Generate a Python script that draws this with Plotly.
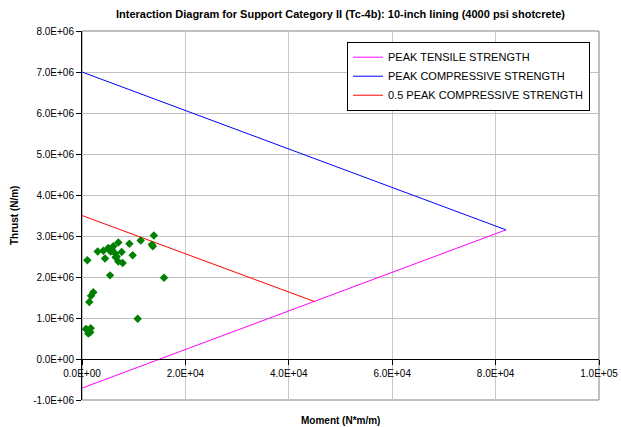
import plotly.graph_objects as go

# ---- data ----
tensile_moment = [0, 82000]
tensile_thrust = [-710000, 3150000]

compressive_moment = [0, 82000]
compressive_thrust = [7000000, 3150000]

half_comp_moment = [0, 45000]
half_comp_thrust = [3500000, 1400000]

pts_moment = [1030, 3030, 4130, 4450, 5090, 5540, 6060, 6380, 7030, 6700, 7030, 7670,
              7870, 9160, 9800, 11350, 13500, 13700, 13900, 15860, 5420, 10770, 2190,
              1740, 1410, 1030, 1680, 1220, 1600, 770, 5740, 6500]
pts_thrust = [2410000, 2620000, 2640000, 2450000, 2710000, 2620000, 2750000, 2580000,
              2840000, 2500000, 2380000, 2610000, 2340000, 2810000, 2530000, 2890000,
              2790000, 2750000, 3010000, 1980000, 2040000, 980000, 1630000, 1540000,
              1390000, 710000, 750000, 620000, 650000, 730000, 2680000, 2480000]

x_tickvals = [0, 20000, 40000, 60000, 80000, 100000]
x_ticktext = ["0.0E+00", "2.0E+04", "4.0E+04", "6.0E+04", "8.0E+04", "1.0E+05"]
y_tickvals = [-1e6, 0, 1e6, 2e6, 3e6, 4e6, 5e6, 6e6, 7e6, 8e6]
y_ticktext = ["-1.0E+06", "0.0E+00", "1.0E+06", "2.0E+06", "3.0E+06", "4.0E+06",
              "5.0E+06", "6.0E+06", "7.0E+06", "8.0E+06"]

x_range = [0, 100000]
y_range = [-1e6, 8e6]

font = "Liberation Sans, Arial, sans-serif"

fig = go.Figure()
fig.add_trace(go.Scatter(x=tensile_moment, y=tensile_thrust, mode="lines",
                         name="PEAK TENSILE STRENGTH",
                         line=dict(color="#FF00FF", width=1)))
fig.add_trace(go.Scatter(x=compressive_moment, y=compressive_thrust, mode="lines",
                         name="PEAK COMPRESSIVE STRENGTH",
                         line=dict(color="#0000FF", width=1)))
fig.add_trace(go.Scatter(x=half_comp_moment, y=half_comp_thrust, mode="lines",
                         name="0.5 PEAK COMPRESSIVE STRENGTH",
                         line=dict(color="#FF0000", width=1)))
fig.add_trace(go.Scatter(x=pts_moment, y=pts_thrust, mode="markers",
                         showlegend=False,
                         marker=dict(symbol="diamond", size=6.5, color="#008000",
                                     line=dict(width=0))))

zero_pos = (0 - y_range[0]) / (y_range[1] - y_range[0])

fig.update_layout(
    width=621, height=427,
    margin=dict(l=82, r=22, t=31, b=27),
    paper_bgcolor="white", plot_bgcolor="white",
    font=dict(family=font, size=10, color="black"),
    showlegend=True,
    legend=dict(x=0.9826, xanchor="right", y=0.971, yanchor="top",
                bgcolor="white", bordercolor="black", borderwidth=1,
                font=dict(family=font, size=11, color="black"),
                tracegroupgap=0, itemwidth=30),
    xaxis=dict(range=x_range, tickvals=x_tickvals, ticktext=x_ticktext,
               anchor="free", position=zero_pos, automargin=False,
               showgrid=True, gridcolor="#c8c8c8", gridwidth=1,
               showline=True, linecolor="black", linewidth=1,
               ticks="outside", ticklen=5, tickcolor="black",
               zeroline=False, tickfont=dict(family=font, size=10)),
    yaxis=dict(range=y_range, tickvals=y_tickvals, ticktext=y_ticktext,
               automargin=False,
               showgrid=True, gridcolor="#c0c0c0", gridwidth=1,
               showline=True, linecolor="black", linewidth=1,
               ticks="outside", ticklen=5, tickcolor="black",
               zeroline=False, tickfont=dict(family=font, size=10)),
    shapes=[dict(type="rect", xref="paper", yref="paper", x0=0, x1=1, y0=0, y1=1,
                 line=dict(color="#808080", width=1), layer="below")],
    annotations=[
        dict(text="<b>Interaction Diagram for Support Category II (Tc-4b): 10-inch lining (4000 psi shotcrete)</b>",
             xref="paper", yref="paper", x=0.5, y=1, yanchor="bottom", yshift=9,
             showarrow=False, font=dict(family=font, size=11)),
        dict(text="<b>Moment (N*m/m)</b>", xref="paper", yref="paper", x=0.5, y=0,
             yanchor="top", yshift=-13, showarrow=False, font=dict(family=font, size=10)),
        dict(text="<b>Thrust (N/m)</b>", xref="paper", yref="paper", x=0, y=0.5,
             xanchor="right", xshift=-60, textangle=-90, showarrow=False,
             font=dict(family=font, size=10)),
    ],
)

fig.write_html("out.html", config={"displayModeBar": False},
               post_script="document.body.style.margin='0';document.body.style.overflow='hidden';")
